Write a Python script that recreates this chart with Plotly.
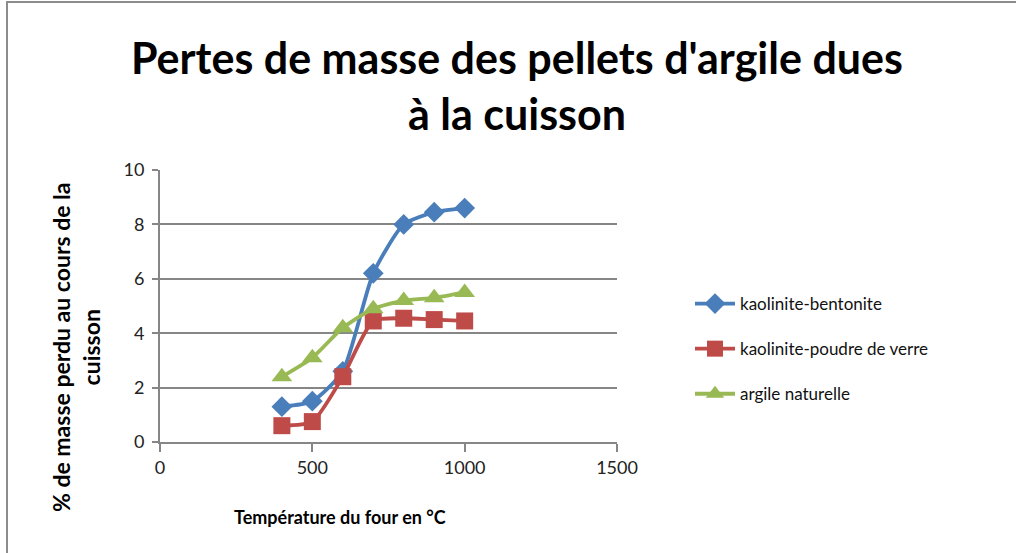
import plotly.graph_objects as go

# Oven temperatures (°C)
temperatures = [400, 500, 600, 700, 800, 900, 1000]

# Mass loss (%) for each clay mixture
kaolinite_bentonite = [1.3, 1.5, 2.6, 6.2, 8.0, 8.45, 8.6]
kaolinite_verre = [0.6, 0.75, 2.4, 4.45, 4.55, 4.5, 4.45]
argile_naturelle = [2.4, 3.1, 4.2, 4.9, 5.2, 5.3, 5.5]

series_names = ["kaolinite-bentonite", "kaolinite-poudre de verre", "argile naturelle"]
x_ticks = [0, 500, 1000, 1500]
y_ticks = [0, 2, 4, 6, 8, 10]

W, H = 1016, 553
L, R, T, B = 160, 399, 170, 111
PW, PH = W - L - R, H - T - B


def px_x(px):
    return (px - L) / PW


def px_y(py):
    return (H - B - py) / PH


FONT = "Lato"

fig = go.Figure()
styles = [
    ("#4A7EBB", "diamond", 16),
    ("#BE4B48", "square", 17),
    ("#98B954", "triangle-up", 18),
]
for i, (vals, name) in enumerate(zip([kaolinite_bentonite, kaolinite_verre, argile_naturelle], series_names)):
    color, symbol, size = styles[i]
    fig.add_trace(go.Scatter(
        x=temperatures, y=vals, name=name, mode="lines+markers",
        line=dict(color=color, width=3.8, shape="spline", smoothing=0.6),
        marker=dict(symbol=symbol, size=size, color=color),
        legendgroup=f"g{i}",
    ))

axis_common = dict(
    showline=True, linecolor="#868686", linewidth=2,
    ticks="outside", tickcolor="#868686", tickwidth=1.5,
    tickfont=dict(family=FONT, size=18, color="#222"),
    zeroline=False,
)
fig.update_xaxes(range=[0, 1500], tickvals=x_ticks, ticklen=8, showgrid=False, **axis_common)
fig.update_yaxes(range=[0, 10], tickvals=y_ticks, ticklen=6, showgrid=True,
                 gridcolor="#868686", gridwidth=1.5, ticklabelstandoff=4, **axis_common)

fig.update_layout(
    width=W, height=H,
    margin=dict(l=L, r=R, t=T, b=B),
    paper_bgcolor="white", plot_bgcolor="white",
    showlegend=True,
    legend=dict(x=px_x(690), y=px_y(286), xanchor="left", yanchor="top",
                font=dict(family=FONT, size=17, color="#111"),
                tracegroupgap=20, itemwidth=40, bgcolor="rgba(0,0,0,0)"),
    shapes=[dict(type="rect", xref="paper", yref="paper",
                 x0=px_x(7), x1=px_x(1030), y0=px_y(570), y1=px_y(2),
                 line=dict(color="#8c8c8c", width=2), fillcolor="rgba(0,0,0,0)", layer="below")],
    annotations=[
        dict(text="<b>Pertes de masse des pellets d'argile dues<br>à la cuisson</b>",
             xref="paper", yref="paper", x=px_x(517), y=px_y(85), xanchor="center", yanchor="middle",
             showarrow=False, font=dict(family=FONT, size=43, color="#000")),
        dict(text="<b>Température du four en °C</b>",
             xref="paper", yref="paper", x=px_x(340), y=px_y(517), xanchor="center", yanchor="middle",
             showarrow=False, font=dict(family=FONT, size=18, color="#000")),
        dict(text="<b>% de masse perdu au cours de la<br>cuisson</b>",
             xref="paper", yref="paper", x=px_x(76), y=px_y(348), xanchor="center", yanchor="middle",
             textangle=-90, showarrow=False, font=dict(family=FONT, size=23, color="#000")),
    ],
)

fig.write_html("out.html")
